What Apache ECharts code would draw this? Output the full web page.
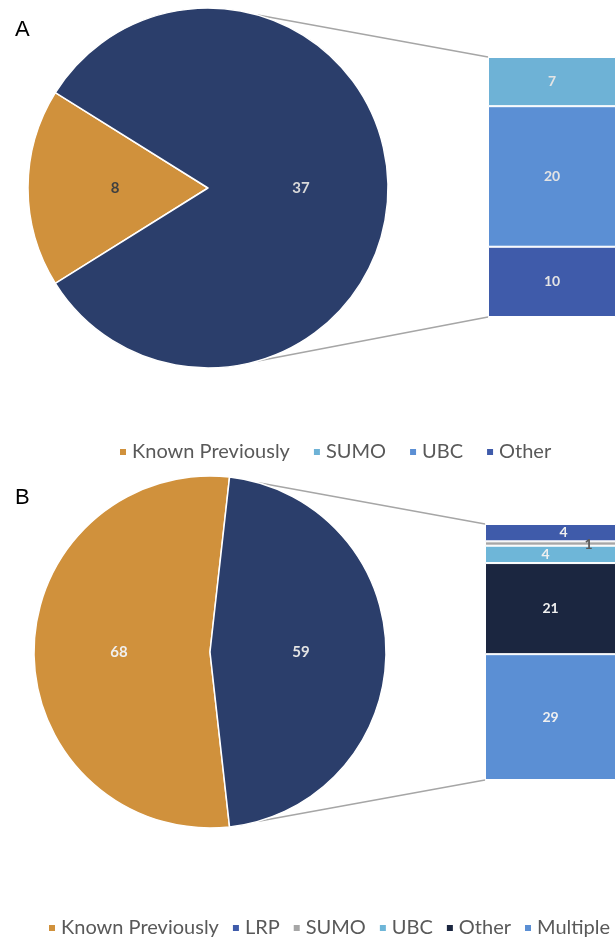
<!DOCTYPE html>
<html>
<head>
<meta charset="utf-8">
<script src="https://cdn.jsdelivr.net/npm/echarts@6/dist/echarts.min.js"></script>
<style>
  body { margin: 0; background: #fff; }
  #panel-a { position: absolute; left: 0; top: 0; width: 616px; height: 470px; }
  #panel-b { position: absolute; left: 0; top: 470px; width: 616px; height: 467px; }
</style>
</head>
<body>
<div id="panel-a"></div>
<div id="panel-b"></div>
<script>
  // 数据
  var pieNames = ['Known Previously', 'Newly Identified'];
  var pieA = [8, 37];
  var pieB = [68, 59];

  // bar segments, listed top to bottom
  var barNamesA = ['SUMO', 'UBC', 'Other'];
  var barA = [7, 20, 10];
  var barNamesB = ['LRP', 'SUMO', 'UBC', 'Other', 'Multiple'];
  var barB = [4, 1, 4, 21, 29];

  var pieColors = ['#D0913C', '#2B3E6B'];
  var barColorsA = ['#6EB2D6', '#5B8FD4', '#3F5BAA'];
  var barColorsB = ['#3F5BAA', '#A6A6A6', '#6EB6D8', '#1B2640', '#5B8FD4'];
  var fontFam = 'Lato, "Open Sans", sans-serif';

  function sum(arr) {
    var t = 0;
    for (var i = 0; i < arr.length; i++) t += arr[i];
    return t;
  }

  // 饼图 + 堆叠柱
  function buildPanel(dom, cfg) {
    var chart = echarts.init(dom);
    var pieTotal = sum(cfg.pie);
    var barTotal = sum(cfg.bar);

    var pieData = cfg.pie.map(function (v, i) {
      return {
        value: v,
        name: pieNames[i],
        itemStyle: { color: pieColors[i] },
        label: { color: cfg.pieLabelColors[i] }
      };
    });

    var series = [{
      type: 'pie',
      center: cfg.center,
      radius: cfg.radius,
      // orange slice centred on the left side
      startAngle: 180 + cfg.pie[0] / pieTotal * 180,
      clockwise: true,
      avoidLabelOverlap: false,
      label: {
        show: true,
        position: 'inside',
        formatter: '{c}',
        fontSize: 15,
        fontWeight: 'bold',
        fontFamily: fontFam
      },
      labelLine: { show: false },
      itemStyle: { borderColor: '#fff', borderWidth: 1.5 },
      emphasis: { scale: false },
      data: pieData
    }];

    cfg.barNames.forEach(function (name, i) {
      series.push({
        name: name,
        type: 'bar',
        stack: 'total',
        barWidth: '100%',
        xAxisIndex: 0,
        yAxisIndex: 0,
        itemStyle: {
          color: cfg.barColors[i],
          borderColor: '#fff',
          borderWidth: 1
        },
        label: {
          show: true,
          position: 'inside',
          offset: cfg.labelOffsets[i],
          color: cfg.barLabelColors[i],
          fontSize: 14,
          fontWeight: 'bold',
          fontFamily: fontFam
        },
        data: [cfg.bar[i]]
      });
    });

    var legendData = [{ name: pieNames[0] }].concat(cfg.barNames.map(function (n) {
      return { name: n };
    }));

    var option = {
      animation: false,
      title: {
        text: cfg.letter,
        left: 10,
        top: cfg.letterTop,
        textStyle: {
          fontSize: 22,
          fontWeight: 'normal',
          fontFamily: '"Liberation Sans", Arial, sans-serif',
          color: '#000'
        }
      },
      legend: {
        data: legendData,
        left: cfg.legendLeft,
        top: cfg.legendTop,
        width: 640,
        icon: 'rect',
        itemWidth: 8,
        itemHeight: 8,
        itemGap: cfg.legendGap,
        textStyle: { fontSize: 20, color: '#595959', fontFamily: fontFam }
      },
      grid: {
        left: cfg.barLeft,
        top: cfg.barTop,
        width: cfg.barWidth,
        height: cfg.barHeight
      },
      xAxis: { type: 'category', data: ['x'], show: false },
      yAxis: { type: 'value', min: 0, max: barTotal, inverse: true, show: false },
      series: series
    };
    chart.setOption(option);

    // 连接线: pie rim -> bar corners
    var ang = 74 * Math.PI / 180;
    var cx = cfg.center[0], cy = cfg.center[1];
    var px = cx + cfg.radius * Math.cos(ang);
    var pyTop = cy - cfg.radius * Math.sin(ang);
    var pyBot = cy + cfg.radius * Math.sin(ang);
    var yTop = chart.convertToPixel({ yAxisIndex: 0 }, 0);
    var yBot = chart.convertToPixel({ yAxisIndex: 0 }, barTotal);
    var lineStyle = { stroke: '#A6A6A6', lineWidth: 1.5 };
    chart.setOption({
      graphic: [{
        type: 'line',
        shape: { x1: px, y1: pyTop, x2: cfg.barLeft, y2: yTop },
        style: lineStyle,
        z: 0
      }, {
        type: 'line',
        shape: { x1: px, y1: pyBot, x2: cfg.barLeft, y2: yBot },
        style: lineStyle,
        z: 0
      }]
    });
    return chart;
  }

  var chartA = buildPanel(document.getElementById('panel-a'), {
    letter: 'A',
    letterTop: 14,
    pie: pieA,
    center: [208, 188],
    radius: 180,
    pieLabelColors: ['#404040', '#D9D9D9'],
    bar: barA,
    barNames: barNamesA,
    barColors: barColorsA,
    barLabelColors: ['#E4E4E4', '#E4E4E4', '#E4E4E4'],
    labelOffsets: [[0, 0], [0, 0], [0, 0]],
    barLeft: 488,
    barTop: 57,
    barWidth: 138,
    barHeight: 260,
    legendLeft: 113,
    legendTop: 437,
    legendGap: 22
  });

  var chartB = buildPanel(document.getElementById('panel-b'), {
    letter: 'B',
    letterTop: 12,
    pie: pieB,
    center: [210, 182],
    radius: 176,
    pieLabelColors: ['#F0F0F0', '#E4E4E4'],
    bar: barB,
    barNames: barNamesB,
    barColors: barColorsB,
    barLabelColors: ['#F0F0F0', '#595959', '#F0F0F0', '#F0F0F0', '#F0F0F0'],
    labelOffsets: [[13, 0], [38, 1], [-5, 0], [0, 0], [0, 0]],
    barLeft: 485,
    barTop: 54,
    barWidth: 136,
    barHeight: 256,
    legendLeft: 42,
    legendTop: 443,
    legendGap: 12
  });
</script>
</body>
</html>
